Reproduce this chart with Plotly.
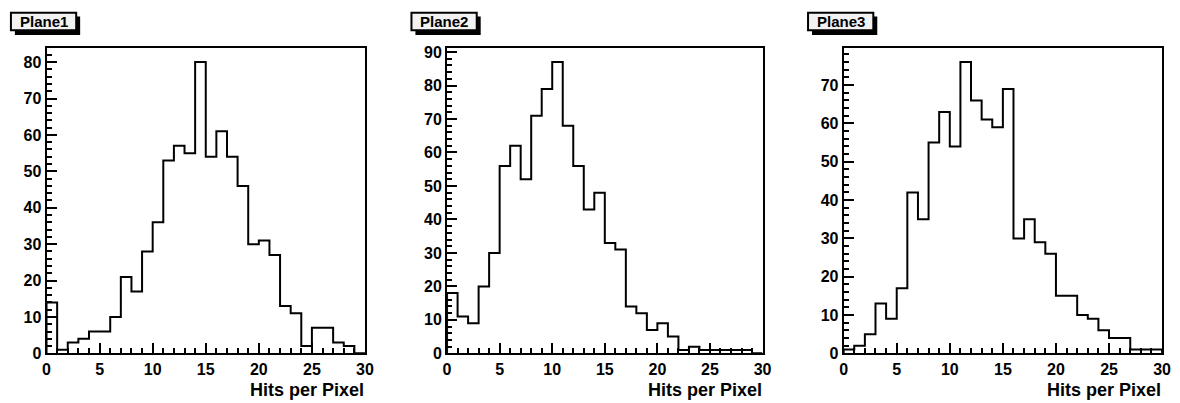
import numpy as np
import plotly.graph_objects as go

# ---- data (bin contents, 30 bins of width 1 from 0 to 30) ----
bin_edges = list(range(0, 31))
plane1 = [14, 1, 3, 4, 6, 6, 10, 21, 17, 28, 36, 53, 57, 55, 80,
          54, 61, 54, 46, 30, 31, 27, 13, 11, 2, 7, 7, 3, 2, 0]
plane2 = [18, 11, 9, 20, 30, 56, 62, 52, 71, 79, 87, 68, 56, 43, 48,
          33, 31, 14, 12, 7, 9, 5, 1, 2, 1, 1, 1, 1, 1, 0]
plane3 = [1, 2, 5, 13, 9, 17, 42, 35, 55, 63, 54, 76, 66, 61, 59,
          69, 30, 35, 29, 26, 15, 15, 10, 9, 6, 4, 4, 1, 1, 1]
titles = ["Plane1", "Plane2", "Plane3"]
x_title = "Hits per Pixel"
x_ticks = [0, 5, 10, 15, 20, 25, 30]

W, H = 1180, 403
FONT = "Liberation Sans"

# panel frames in pixels (left, right), shared top/bottom
frames = [(43, 365), (448, 767), (849, 1171)]
top_px, bot_px = 45, 361

fig = go.Figure()

def px(x):
    return x / W

def py(y):
    return 1 - y / H

series = [plane1, plane2, plane3]
for i, (vals, title, (l, r)) in enumerate(zip(series, titles, frames)):
    n = i + 1
    xa = "x" if n == 1 else f"x{n}"
    ya = "y" if n == 1 else f"y{n}"
    edges = bin_edges
    xs = [edges[0]] + edges[:-1] + [edges[-1], edges[-1]]
    ys = [0] + vals + [vals[-1], 0]
    fig.add_trace(go.Scatter(x=xs, y=ys, mode="lines", line_shape="hv",
                             line=dict(color="black", width=2),
                             xaxis=xa, yaxis=ya, showlegend=False,
                             hoverinfo="skip"))
    ymax = 1.05 * max(vals)
    axis_common = dict(showline=True, linecolor="black", linewidth=2, mirror=True,
                       ticks="inside", tickcolor="black", tickwidth=2, ticklen=10,
                       showgrid=False, zeroline=False,
                       tickfont=dict(family=FONT, size=16, color="black", weight="bold"))
    xkey = "xaxis" if n == 1 else f"xaxis{n}"
    ykey = "yaxis" if n == 1 else f"yaxis{n}"
    fig.update_layout(**{
        xkey: dict(domain=[px(l), px(r)], range=[0, 30], anchor=ya,
                   tickvals=x_ticks, ticktext=[str(t) for t in x_ticks],
                   minor=dict(dtick=1, ticks="inside", ticklen=5, tickwidth=2,
                              tickcolor="black", showgrid=False),
                   ticklabelstandoff=0,
                   **axis_common),
        ykey: dict(domain=[py(bot_px), py(top_px)], range=[0, ymax], anchor=xa,
                   dtick=10, tick0=0,
                   minor=dict(dtick=2, ticks="inside", ticklen=5, tickwidth=2,
                              tickcolor="black", showgrid=False),
                   ticklabelstandoff=0,
                   **axis_common),
    })
    # x axis title, right aligned with the frame
    fig.add_annotation(text=x_title, xref=f"{xa} domain", x=1, xanchor="right",
                       yref="paper", y=py(393), yanchor="middle", showarrow=False,
                       borderpad=0, yshift=-6,
                       font=dict(family=FONT, size=18, color="black", weight="bold"))
    # title box with shadow
    bl = l - 36
    fig.add_shape(type="rect", xref="paper", yref="paper",
                  x0=px(bl + 4), x1=px(bl + 70), y0=py(32), y1=py(13),
                  fillcolor="black", line=dict(width=0))
    fig.add_shape(type="rect", xref="paper", yref="paper",
                  x0=px(bl), x1=px(bl + 66), y0=py(27), y1=py(9),
                  fillcolor="#f2f2f2", line=dict(color="black", width=2))
    fig.add_annotation(text=title, xref="paper", x=px(bl + 33), xanchor="center",
                       yref="paper", y=py(18), yanchor="middle", showarrow=False,
                       font=dict(family=FONT, size=15, color="black", weight="bold"))

fig.update_layout(width=W, height=H, margin=dict(l=0, r=0, t=0, b=0),
                  paper_bgcolor="white", plot_bgcolor="white")
fig.write_html("out.html")
